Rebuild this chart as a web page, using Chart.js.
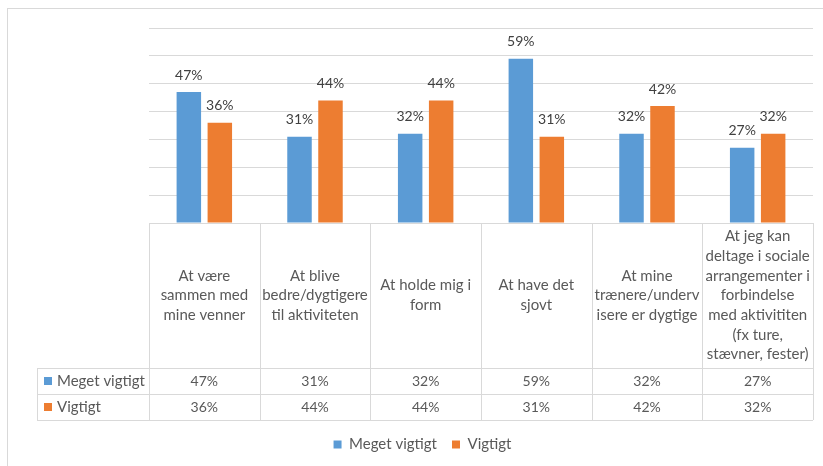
<!DOCTYPE html>
<html>
<head>
<meta charset="utf-8">
<script src="https://cdn.jsdelivr.net/npm/chart.js@4.4.1/dist/chart.umd.min.js"></script>
<style>
  html, body { margin: 0; padding: 0; background: #fff; }
  #wrap { position: relative; width: 823px; height: 466px; overflow: hidden; }
  #frame { position: absolute; left: 7px; top: 8px; width: 840px; height: 480px; border: 1px solid #d9d9d9; }
  canvas { position: absolute; left: 0; top: 0; }
</style>
</head>
<body>
<div id="wrap">
  <div id="frame"></div>
  <canvas id="chart" width="823" height="466"></canvas>
</div>
<script>
// category labels, wrapped the way the table shows them
const categories = [
  ['At være', 'sammen med', 'mine venner'],
  ['At blive', 'bedre/dygtigere', 'til aktiviteten'],
  ['At holde mig i', 'form'],
  ['At have det', 'sjovt'],
  ['At mine', 'trænere/underv', 'isere er dygtige'],
  ['At jeg kan', 'deltage i sociale', 'arrangementer i', 'forbindelse', 'med aktivititen', '(fx ture,', 'stævner, fester)']
];
const seriesNames = ['Meget vigtigt', 'Vigtigt'];
const megetVigtigt = [0.47, 0.31, 0.32, 0.59, 0.32, 0.27];
const vigtigt = [0.36, 0.44, 0.44, 0.31, 0.42, 0.32];
const yMax = 0.7;
const yStep = 0.1;

const BLUE = '#5B9BD5';
const ORANGE = '#ED7D31';
const GRID = '#d9d9d9';
const TEXT = '#595959';

Chart.defaults.font.family = 'Lato, "Liberation Sans", sans-serif';

function pct(v) { return Math.round(v * 100) + '%'; }

// value labels above each bar
const barLabels = {
  id: 'barLabels',
  afterDatasetsDraw(chart) {
    const ctx = chart.ctx;
    ctx.save();
    ctx.font = '14px Lato';
    ctx.fillStyle = '#404040';
    ctx.textAlign = 'center';
    ctx.textBaseline = 'middle';
    chart.data.datasets.forEach(function (ds, di) {
      chart.getDatasetMeta(di).data.forEach(function (bar, i) {
        ctx.fillText(pct(ds.data[i]), bar.x, bar.y - 17);
      });
    });
    ctx.restore();
  }
};

// data table under the plot
const dataTable = {
  id: 'dataTable',
  afterDraw(chart) {
    const ctx = chart.ctx;
    const xs = chart.scales.x;
    const area = chart.chartArea;
    const n = categories.length;
    const colW = (area.right - area.left) / n;
    const top = area.bottom;
    const headBottom = top + 145;
    const rowH = 26;
    const tableLeft = 37;

    ctx.save();
    ctx.strokeStyle = GRID;
    ctx.lineWidth = 1;
    ctx.beginPath();
    // horizontal lines
    ctx.moveTo(area.left, Math.round(top) + 0.5); ctx.lineTo(area.right, Math.round(top) + 0.5);
    for (let r = 0; r <= 2; r++) {
      const y = Math.round(headBottom + r * rowH) + 0.5;
      ctx.moveTo(tableLeft, y); ctx.lineTo(area.right, y);
    }
    // vertical lines
    for (let c = 0; c <= n; c++) {
      const x = Math.round(area.left + c * colW) + 0.5;
      ctx.moveTo(x, top); ctx.lineTo(x, headBottom + 2 * rowH);
    }
    ctx.moveTo(tableLeft + 0.5, headBottom); ctx.lineTo(tableLeft + 0.5, headBottom + 2 * rowH);
    ctx.stroke();

    ctx.fillStyle = TEXT;
    ctx.textAlign = 'center';
    ctx.textBaseline = 'middle';
    ctx.font = '15px Lato';
    const lineH = 19.7;
    const midHead = (top + headBottom) / 2;
    categories.forEach(function (lines, i) {
      const cx = xs.getPixelForValue(i);
      const y0 = midHead - (lines.length - 1) * lineH / 2;
      lines.forEach(function (t, k) { ctx.fillText(t, cx, y0 + k * lineH); });
    });

    const rows = [megetVigtigt, vigtigt];
    const colors = [BLUE, ORANGE];
    rows.forEach(function (vals, r) {
      const cy = headBottom + r * rowH + rowH / 2;
      ctx.textAlign = 'center';
      ctx.font = '14px Lato';
      vals.forEach(function (v, i) { ctx.fillText(pct(v), xs.getPixelForValue(i), cy); });
      ctx.fillStyle = colors[r];
      ctx.fillRect(tableLeft + 7, cy - 4, 8, 8);
      ctx.fillStyle = TEXT;
      ctx.textAlign = 'left';
      ctx.font = '15px Lato';
      ctx.fillText(seriesNames[r], tableLeft + 20, cy);
    });
    ctx.restore();
  }
};

new Chart(document.getElementById('chart').getContext('2d'), {
  type: 'bar',
  data: {
    labels: categories.map(function (c) { return c.join(' '); }),
    datasets: [
      { label: seriesNames[0], data: megetVigtigt, backgroundColor: BLUE, categoryPercentage: 0.56, barPercentage: 0.79 },
      { label: seriesNames[1], data: vigtigt, backgroundColor: ORANGE, categoryPercentage: 0.56, barPercentage: 0.79 }
    ]
  },
  options: {
    responsive: false,
    animation: false,
    layout: { padding: { left: 32, right: 10, top: 28, bottom: 4 } },
    plugins: {
      tooltip: { enabled: false },
      legend: {
        position: 'bottom',
        labels: { boxWidth: 8, boxHeight: 8, padding: 15, color: TEXT, font: { size: 15 } }
      }
    },
    scales: {
      x: {
        grid: { display: false },
        border: { display: false },
        ticks: { display: false },
        afterFit: function (axis) { axis.height = 199; }
      },
      y: {
        min: 0,
        max: yMax,
        ticks: { display: false, stepSize: yStep },
        grid: { color: GRID, drawTicks: false },
        border: { display: false },
        afterFit: function (axis) { axis.width = 117; }
      }
    }
  },
  plugins: [barLabels, dataTable]
});
</script>
</body>
</html>
